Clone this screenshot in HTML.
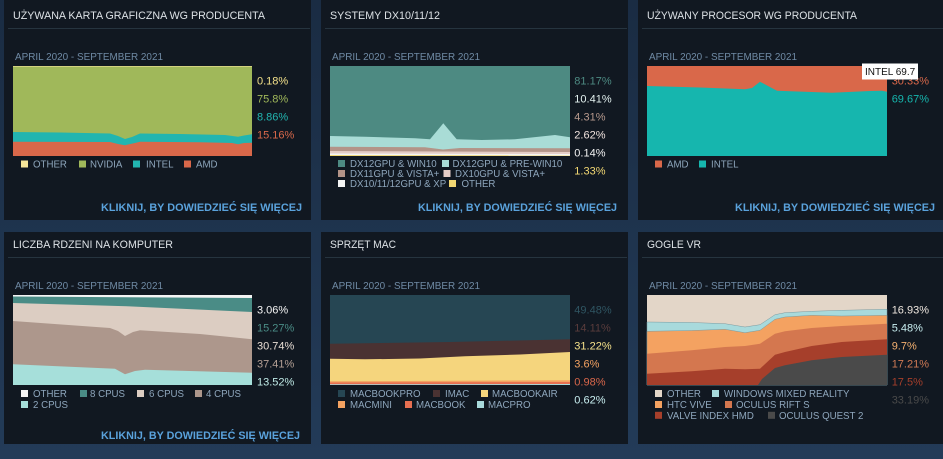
<!DOCTYPE html>
<html><head><meta charset="utf-8"><style>
html,body{margin:0;padding:0;background:#1d314a;}
svg{display:block;font-family:"Liberation Sans","DejaVu Sans",sans-serif;}
.t{fill:#dde2e6;font-size:11px;}
.d{fill:#6f8aa4;font-size:10px;}
.k{fill:#5aa2dc;font-size:11px;font-weight:bold;}
.p{font-size:11px;}
.l{fill:#8ea6bc;font-size:9.7px;}
</style></head><body>
<svg width="943" height="459" viewBox="0 0 943 459" xmlns="http://www.w3.org/2000/svg">
<defs><linearGradient id="bg" x1="0" y1="0" x2="0" y2="1"><stop offset="0" stop-color="#1a2c43"/><stop offset="1" stop-color="#233b58"/></linearGradient></defs>
<rect width="943" height="459" fill="url(#bg)"/>
<!-- panels -->
<g fill="#111821">
<rect x="4" y="0" width="307" height="220"/>
<rect x="321" y="0" width="307" height="220"/>
<rect x="638" y="0" width="305" height="220"/>
<rect x="4" y="232" width="307" height="212"/>
<rect x="321" y="232" width="307" height="212"/>
<rect x="638" y="232" width="305" height="212"/>
</g>
<g stroke="#26343f" stroke-width="1">
<line x1="8" y1="28.5" x2="310" y2="28.5"/><line x1="325" y1="28.5" x2="627" y2="28.5"/><line x1="642" y1="28.5" x2="943" y2="28.5"/>
<line x1="8" y1="257.5" x2="310" y2="257.5"/><line x1="325" y1="257.5" x2="627" y2="257.5"/><line x1="642" y1="257.5" x2="943" y2="257.5"/>
</g>
<!-- titles -->
<text class="t" x="13" y="19" textLength="252" lengthAdjust="spacingAndGlyphs">UŻYWANA KARTA GRAFICZNA WG PRODUCENTA</text>
<text class="t" x="330" y="19" textLength="110" lengthAdjust="spacingAndGlyphs">SYSTEMY DX10/11/12</text>
<text class="t" x="647" y="19" textLength="210" lengthAdjust="spacingAndGlyphs">UŻYWANY PROCESOR WG PRODUCENTA</text>
<text class="t" x="13" y="248" textLength="160" lengthAdjust="spacingAndGlyphs">LICZBA RDZENI NA KOMPUTER</text>
<text class="t" x="330" y="248" textLength="66" lengthAdjust="spacingAndGlyphs">SPRZĘT MAC</text>
<text class="t" x="647" y="248" textLength="54" lengthAdjust="spacingAndGlyphs">GOGLE VR</text>
<!-- dates -->
<text class="d" x="15" y="60" textLength="148" lengthAdjust="spacingAndGlyphs">APRIL 2020 - SEPTEMBER 2021</text>
<text class="d" x="332" y="60" textLength="148" lengthAdjust="spacingAndGlyphs">APRIL 2020 - SEPTEMBER 2021</text>
<text class="d" x="649" y="60" textLength="148" lengthAdjust="spacingAndGlyphs">APRIL 2020 - SEPTEMBER 2021</text>
<text class="d" x="15" y="289" textLength="148" lengthAdjust="spacingAndGlyphs">APRIL 2020 - SEPTEMBER 2021</text>
<text class="d" x="332" y="289" textLength="148" lengthAdjust="spacingAndGlyphs">APRIL 2020 - SEPTEMBER 2021</text>
<text class="d" x="649" y="289" textLength="148" lengthAdjust="spacingAndGlyphs">APRIL 2020 - SEPTEMBER 2021</text>
<!-- links -->
<text class="k" x="101" y="211" textLength="201" lengthAdjust="spacingAndGlyphs">KLIKNIJ, BY DOWIEDZIEĆ SIĘ WIĘCEJ</text>
<text class="k" x="418" y="211" textLength="199" lengthAdjust="spacingAndGlyphs">KLIKNIJ, BY DOWIEDZIEĆ SIĘ WIĘCEJ</text>
<text class="k" x="735" y="211" textLength="200" lengthAdjust="spacingAndGlyphs">KLIKNIJ, BY DOWIEDZIEĆ SIĘ WIĘCEJ</text>
<text class="k" x="101" y="439" textLength="199" lengthAdjust="spacingAndGlyphs">KLIKNIJ, BY DOWIEDZIEĆ SIĘ WIĘCEJ</text>

<!-- P1 chart -->
<rect x="13" y="66" width="239" height="90" fill="#a0b85a"/>
<rect x="13" y="66" width="239" height="0.6" fill="#f5e59a"/>
<polygon fill="#22b5b0" points="13,132 60,132.5 110,133.5 118,136 125,139 132,137 140,133.5 180,134 225,135 238,136.7 244,135.5 252,134.3 252,156 13,156"/>
<polygon fill="#d9684a" points="13,141.7 110,142 118,144 125,145.2 135,143 140,141.7 200,142.3 232,143 238,144.3 244,143 252,142.7 252,156 13,156"/>
<text class="p" x="257" y="84.7" fill="#f3e08a">0.18%</text>
<text class="p" x="257" y="102.7" fill="#a0b85a">75.8%</text>
<text class="p" x="257" y="120.7" fill="#22b5b0">8.86%</text>
<text class="p" x="257" y="138.7" fill="#d9684a">15.16%</text>
<rect x="21" y="160.5" width="7" height="7" fill="#f5e59a"/><text class="l" x="33" y="167.5">OTHER</text>
<rect x="79" y="160.5" width="7" height="7" fill="#a0b85a"/><text class="l" x="90" y="167.5">NVIDIA</text>
<rect x="133" y="160.5" width="7" height="7" fill="#22b5b0"/><text class="l" x="146" y="167.5">INTEL</text>
<rect x="184" y="160.5" width="7" height="7" fill="#d9684a"/><text class="l" x="196" y="167.5">AMD</text>

<!-- P2 chart -->
<rect x="330" y="66" width="240" height="90" fill="#4d8a82"/>
<polygon fill="#a9dcd6" points="330,136 365,136.7 415,138.3 430,139.3 443.3,123.3 456.7,139.3 481.7,140 515,139.3 555,135 570,137.3 570,156 330,156"/>
<polygon fill="#b39488" points="330,146.7 425,147.3 443,149.5 460,148 570,148.3 570,156 330,156"/>
<polygon fill="#e5cdc6" points="330,151 570,152 570,156 330,156"/>
<polygon fill="#f4f4f4" points="330,153.5 570,154 570,156 330,156"/>
<polygon fill="#f3d873" points="330,155 570,155.3 570,156 330,156"/>
<text class="p" x="574.3" y="84.7" fill="#4d8a82">81.17%</text>
<text class="p" x="574.3" y="102.7" fill="#e4f2f0">10.41%</text>
<text class="p" x="574.3" y="120.7" fill="#b89a8e">4.31%</text>
<text class="p" x="574.3" y="138.7" fill="#f0e2de">2.62%</text>
<text class="p" x="574.3" y="156.7" fill="#f4f4f4">0.14%</text>
<text class="p" x="574.3" y="174.7" fill="#f3d873">1.33%</text>
<rect x="338" y="160" width="7" height="7" fill="#4d8a82"/><text class="l" x="350" y="167">DX12GPU &amp; WIN10</text>
<rect x="442" y="160" width="7" height="7" fill="#a9dcd6"/><text class="l" x="452.5" y="167">DX12GPU &amp; PRE-WIN10</text>
<rect x="338" y="170" width="7" height="7" fill="#b39488"/><text class="l" x="350" y="177">DX11GPU &amp; VISTA+</text>
<rect x="443.5" y="170" width="7" height="7" fill="#e5cdc6"/><text class="l" x="455" y="177">DX10GPU &amp; VISTA+</text>
<rect x="338" y="180" width="7" height="7" fill="#f4f4f4"/><text class="l" x="350" y="187">DX10/11/12GPU &amp; XP</text>
<rect x="449" y="180" width="7" height="7" fill="#f3d873"/><text class="l" x="461.5" y="187">OTHER</text>

<!-- P3 chart -->
<rect x="647" y="66" width="240" height="90" fill="#d9684a"/>
<polygon fill="#16b6ae" points="647,86 700,87.5 745,89.3 752,88 760,81.7 768,86 777,90.7 832,92.7 870,91 882,90.7 887,91.7 887,156 647,156"/>
<text class="p" x="891.7" y="84.7" fill="#d9684a">30.33%</text>
<text class="p" x="891.7" y="102.7" fill="#16b6ae">69.67%</text>
<rect x="862" y="63.5" width="56" height="16" fill="#ffffff"/>
<text x="865" y="75" fill="#111" font-size="10px">INTEL 69.7</text>
<rect x="655" y="160.5" width="7" height="7" fill="#d9684a"/><text class="l" x="667" y="167.5">AMD</text>
<rect x="699" y="160.5" width="7" height="7" fill="#16b6ae"/><text class="l" x="711" y="167.5">INTEL</text>

<!-- P4 chart -->
<rect x="13" y="295" width="239" height="90" fill="#f4f4f4"/>
<polygon fill="#4a8c86" points="13,296.5 252,298 252,385 13,385"/>
<polygon fill="#dccdc2" points="13,303 127,306.3 252,312 252,385 13,385"/>
<polygon fill="#ad978c" points="13,321 110,328 118,331 125,336 133,332 140,330.3 200,334 230,337 252,339.3 252,385 13,385"/>
<polygon fill="#a6dfda" points="13,364.3 115,368.7 125,374.3 135,371 145,369.7 252,372.7 252,385 13,385"/>
<text class="p" x="257" y="313.7" fill="#f4f4f4">3.06%</text>
<text class="p" x="257" y="331.7" fill="#4a8c86">15.27%</text>
<text class="p" x="257" y="349.7" fill="#e8ddd4">30.74%</text>
<text class="p" x="257" y="367.7" fill="#b5a095">37.41%</text>
<text class="p" x="257" y="385.7" fill="#bfeae6">13.52%</text>
<rect x="21" y="390" width="7" height="7" fill="#f4f4f4"/><text class="l" x="33" y="397.2">OTHER</text>
<rect x="80" y="390" width="7" height="7" fill="#4a8c86"/><text class="l" x="90" y="397.2">8 CPUS</text>
<rect x="137" y="390" width="7" height="7" fill="#dccdc2"/><text class="l" x="149" y="397.2">6 CPUS</text>
<rect x="195" y="390" width="7" height="7" fill="#ad978c"/><text class="l" x="206" y="397.2">4 CPUS</text>
<rect x="21" y="401" width="7" height="7" fill="#a6dfda"/><text class="l" x="33" y="408">2 CPUS</text>

<!-- P5 chart -->
<rect x="330" y="295" width="240" height="90" fill="#264653"/>
<polygon fill="#4a3232" points="330,343.7 450,342 570,339.3 570,385 330,385"/>
<polygon fill="#f5d57d" points="330,358.7 365,359.3 420,358.5 465,356.3 520,354.5 570,352 570,385 330,385"/>
<polygon fill="#f4a261" points="330,381.3 570,380.3 570,385 330,385"/>
<polygon fill="#e76f51" points="330,382.5 570,382 570,385 330,385"/>
<polygon fill="#a8dadc" points="330,384.3 570,384 570,385 330,385"/>
<text class="p" x="574.3" y="313.7" fill="#2f5562">49.48%</text>
<text class="p" x="574.3" y="331.7" fill="#5a3c3c">14.11%</text>
<text class="p" x="574.3" y="349.7" fill="#f4e08a">31.22%</text>
<text class="p" x="574.3" y="367.7" fill="#f4a261">3.6%</text>
<text class="p" x="574.3" y="385.7" fill="#d8664a">0.98%</text>
<text class="p" x="574.3" y="403.7" fill="#c8eef0">0.62%</text>
<rect x="338" y="390" width="7" height="7" fill="#264653"/><text class="l" x="350" y="397.2">MACBOOKPRO</text>
<rect x="433" y="390" width="7" height="7" fill="#4a3232"/><text class="l" x="445" y="397.2">IMAC</text>
<rect x="481" y="390" width="7" height="7" fill="#f5d57d"/><text class="l" x="492" y="397.2">MACBOOKAIR</text>
<rect x="338" y="401" width="7" height="7" fill="#f4a261"/><text class="l" x="350" y="408">MACMINI</text>
<rect x="405" y="401" width="7" height="7" fill="#e76f51"/><text class="l" x="416" y="408">MACBOOK</text>
<rect x="477" y="401" width="7" height="7" fill="#a8dadc"/><text class="l" x="488" y="408">MACPRO</text>

<!-- P6 chart -->
<rect x="647" y="295" width="240" height="90" fill="#e3d6c8"/>
<polygon fill="#a8dadc" stroke="#7a9aa0" stroke-width="0.5" points="647,322 691.7,322.5 725,323.7 745,327 760,324.7 775,314.7 785,312.7 811.7,311.3 841.7,310.3 887,309.3 887,385 647,385"/>
<polygon fill="#f4a261" stroke="#7a9aa0" stroke-width="0.5" points="647,331.3 691.7,330.5 725,329.3 745,332.7 760,330.3 775,319.3 785,317 811.7,315.3 841.7,316 887,315.3 887,385 647,385"/>
<polygon fill="#d4774f" points="647,353.7 691.7,350.3 725,347 745,346 760,343.7 775,333.7 785,331.3 811.7,328 841.7,326 887,323.7 887,385 647,385"/>
<polygon fill="#a63f2b" points="647,373.7 691.7,371.3 725,368.7 745,369.3 760,368.7 775,354.7 785,352 811.7,346 841.7,342 887,339.3 887,385 647,385"/>
<polygon fill="#4a4a4a" points="647,385 758,385 762,379 775,368 785,365.3 811.7,360.3 841.7,357 887,354.7 887,385"/>
<text class="p" x="891.7" y="313.7" fill="#f0e8e0">16.93%</text>
<text class="p" x="891.7" y="331.7" fill="#c8eef0">5.48%</text>
<text class="p" x="891.7" y="349.7" fill="#f4b070">9.7%</text>
<text class="p" x="891.7" y="367.7" fill="#d07a55">17.21%</text>
<text class="p" x="891.7" y="385.7" fill="#a63f2b">17.5%</text>
<text class="p" x="891.7" y="403.7" fill="#4a4a4a">33.19%</text>
<rect x="655" y="390" width="7" height="7" fill="#e3d6c8"/><text class="l" x="667" y="397.2">OTHER</text>
<rect x="712" y="390" width="7" height="7" fill="#a8dadc"/><text class="l" x="724" y="397.2">WINDOWS MIXED REALITY</text>
<rect x="655" y="401" width="7" height="7" fill="#f4a261"/><text class="l" x="667" y="408">HTC VIVE</text>
<rect x="725" y="401" width="7" height="7" fill="#d4774f"/><text class="l" x="736" y="408">OCULUS RIFT S</text>
<rect x="655" y="411.8" width="7" height="7" fill="#a63f2b"/><text class="l" x="667" y="418.8">VALVE INDEX HMD</text>
<rect x="768" y="411.8" width="7" height="7" fill="#4a4a4a"/><text class="l" x="779" y="418.8">OCULUS QUEST 2</text>
</svg>
</body></html>
